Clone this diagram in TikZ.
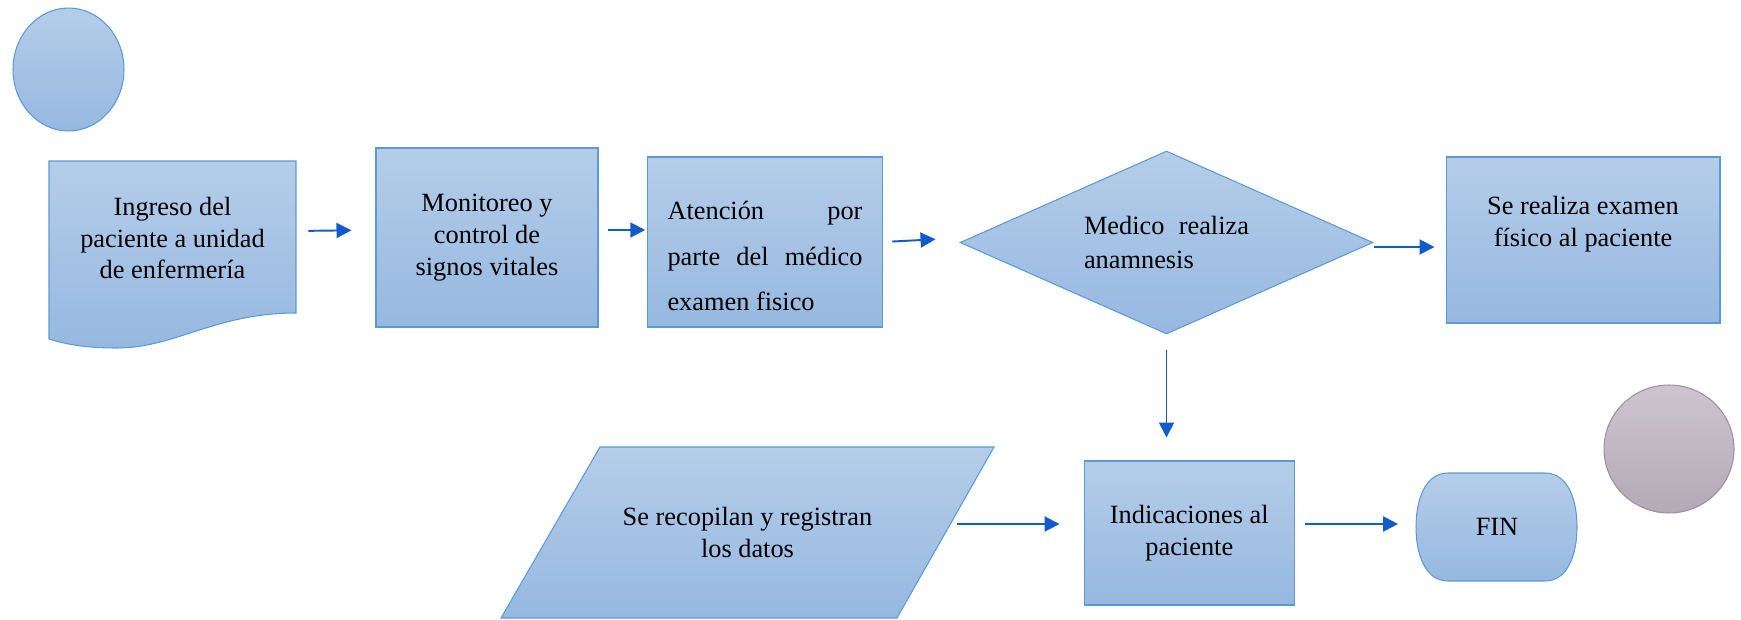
\documentclass[tikz,border=0pt]{standalone}
\usepackage{fontspec}
\setmainfont{Liberation Serif}
\usetikzlibrary{arrows.meta}
\usetikzlibrary{calc}
\usetikzlibrary{shapes.geometric}

\definecolor{azulclaro}{HTML}{B5CDE9}
\definecolor{azuloscuro}{HTML}{96B8E0}
\definecolor{azulborde}{HTML}{5B9BD5}
\definecolor{azulflecha}{HTML}{135BCB}
\definecolor{lilaclaro}{HTML}{CCC5D0}
\definecolor{lilaoscuro}{HTML}{B4A9B6}
\definecolor{lilaborde}{HTML}{9F8FA2}

\tikzset{
  forma/.style={draw=azulborde, line width=0.6pt, top color=azulclaro, bottom color=azuloscuro},
  texto/.style={font=\fontsize{15}{18}\selectfont, align=center, inner sep=0pt},
  caja/.style={forma, texto, rectangle},
  flecha/.style={-{Triangle[length=0.3cm,width=0.3cm]}, draw=azulflecha, line width=1.1pt},
}

\begin{document}
\begin{tikzpicture}[x=0.02cm, y=-0.02cm]
            \useasboundingbox (0,0) rectangle (1741,619);
            % formas dibujadas a mano (documento, datos, fin)
            \path[forma] (49,161) -- (296,161) -- (296,313)
                .. controls (215,313) and (175,348) .. (117,348)
                .. controls (88,348) and (68,345) .. (49,339) -- cycle;
            \path[forma] (600,447) -- (994,447) -- (897,618) -- (501,618) -- cycle;
            \path[forma] (1448,473) -- (1545,473)
                .. controls (1568,473) and (1577,500) .. (1577,527)
                .. controls (1577,554) and (1568,581) .. (1545,581)
                -- (1448,581)
                .. controls (1425,581) and (1416,554) .. (1416,527)
                .. controls (1416,500) and (1425,473) .. (1448,473) -- cycle;
            \node[forma, ellipse, minimum width=2.22cm, minimum height=2.46cm] (inicio) at (68.5,69.5) {};
            \node[texto, minimum width=4.94cm, minimum height=3.04cm] (ingreso) at (172.5,238) {Ingreso del\\paciente a unidad\\de enfermería};
            \node[caja, minimum width=4.44cm, minimum height=3.58cm] (monitoreo) at (487,237.5) {Monitoreo y\\control de\\signos vitales};
            \node[caja, minimum width=4.71cm, minimum height=3.4cm] (atencion) at (765,242)
                {\parbox{3.9cm}{\vspace*{0.56cm}\fontsize{15}{26}\selectfont
                 Atención por\linebreak parte del médico\linebreak examen fisico}};
            \node[forma, texto, diamond, aspect=2.26, minimum width=8.26cm, minimum height=3.66cm, text width=3.3cm,
                align=justify, font=\fontsize{15}{19}\selectfont] (anamnesis) at (1166.5,242.5)
                {Medico \ realiza anamnesis};
            \node[caja, minimum width=5.48cm, minimum height=3.32cm] (examen) at (1583,240)
                {\parbox{5.2cm}{\centering Se realiza examen\\físico al paciente\par\vspace*{0.64cm}}};
            \node[texto, minimum width=7.92cm, minimum height=3.42cm] (datos) at (747.5,532.5) {Se recopilan y registran\\los datos};
            \node[caja, minimum width=4.19cm, minimum height=2.88cm] (indicaciones) at (1189.3,533) {Indicaciones al\\paciente};
            \node[texto, minimum width=3.22cm, minimum height=2.16cm] (fin) at (1497,527) {FIN};
            \node[ellipse, draw=lilaborde, line width=0.6pt, top color=lilaclaro, bottom color=lilaoscuro,
                minimum width=2.6cm, minimum height=2.56cm] (conector) at (1669,449) {};
            \draw[flecha, shorten <=0.24cm, shorten >=0.48cm] (ingreso.east |- 0,231) to (monitoreo.west |- 0,230);
            \draw[flecha, shorten <=0.18cm, shorten >=0.03cm] (monitoreo.east |- 0,230) to (atencion.west |- 0,230);
            \draw[flecha, shorten <=0.18cm, shorten >=0.48cm] (atencion.east |- 0,242) to (anamnesis.west |- 0,238);
            \draw[flecha, shorten >=0.22cm] (anamnesis.east |- 0,247) to (examen.west |- 0,247);
            \draw[flecha, shorten <=0.3cm, shorten >=0.46cm] (anamnesis.south) to (anamnesis.south |- indicaciones.north);
            \draw[flecha, shorten <=0.23cm, shorten >=0.49cm] (datos.east |- 0,524) to (indicaciones.west |- 0,524);
            \draw[flecha, shorten <=0.2cm, shorten >=0.36cm] (indicaciones.east |- 0,524) to (fin.west |- 0,524);
        \end{tikzpicture}
\end{document}
